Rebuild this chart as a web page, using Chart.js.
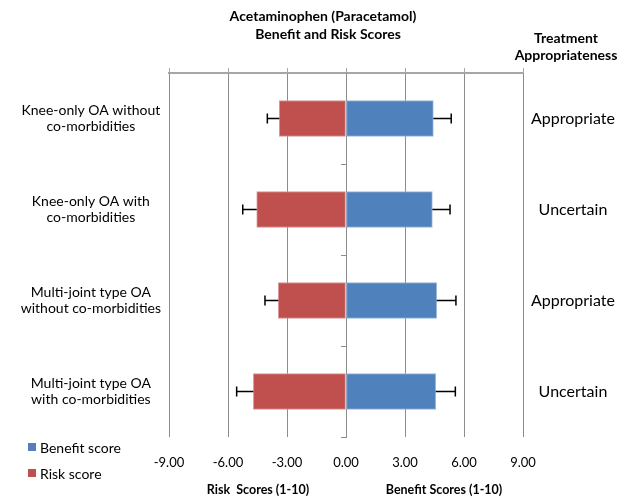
<!DOCTYPE html>
<html>
<head>
<meta charset="utf-8">
<script src="https://cdn.jsdelivr.net/npm/chart.js"></script>
<style>
  body { margin: 0; background: #fff; }
</style>
</head>
<body>
<canvas id="oaChart" width="632" height="498"></canvas>
<script>
var categories = [
  ['Knee-only OA without', 'co-morbidities'],
  ['Knee-only OA with', 'co-morbidities'],
  ['Multi-joint type OA', 'without co-morbidities'],
  ['Multi-joint type OA', 'with co-morbidities']
];
var appropriateness = ['Appropriate', 'Uncertain', 'Appropriate', 'Uncertain'];
var benefitScores = [4.44, 4.39, 4.61, 4.56];
var riskScores = [-3.39, -4.54, -3.44, -4.71];
var benefitErrors = [0.91, 0.90, 0.98, 1.00];
var riskErrors = [0.61, 0.71, 0.68, 0.85];
var xTicks = [-9, -6, -3, 0, 3, 6, 9];

var FONT = 'Lato, "Liberation Sans", sans-serif';
var gridColor = '#8c8c8c';

// error bars, drawn from each bar end through the x scale
var errorBars = {
  id: 'errorBars',
  afterDatasetsDraw: function(chart) {
    var ctx = chart.ctx;
    var xs = chart.scales.x;
    chart.data.datasets.forEach(function(ds, i) {
      var meta = chart.getDatasetMeta(i);
      meta.data.forEach(function(bar, j) {
        var v = ds.data[j];
        var end = v + (v < 0 ? -ds.errors[j] : ds.errors[j]);
        var x1 = xs.getPixelForValue(v);
        var x2 = xs.getPixelForValue(end);
        ctx.save();
        ctx.strokeStyle = '#000';
        ctx.lineWidth = 1.5;
        ctx.beginPath();
        ctx.moveTo(x1, bar.y);
        ctx.lineTo(x2, bar.y);
        ctx.moveTo(x2, bar.y - 5);
        ctx.lineTo(x2, bar.y + 5);
        ctx.stroke();
        ctx.restore();
      });
    });
  }
};

// titles, axis titles and legend
var texts = {
  id: 'texts',
  afterDraw: function(chart) {
    var ctx = chart.ctx;
    ctx.save();
    ctx.fillStyle = '#000';
    ctx.textAlign = 'center';
    ctx.textBaseline = 'middle';
    ctx.font = 'bold 14px ' + FONT;
    ctx.fillText('Acetaminophen (Paracetamol)', 323, 16);
    ctx.fillText('Benefit and Risk Scores', 328, 34);
    ctx.fillText('Treatment', 566, 38);
    ctx.fillText('Appropriateness', 566, 55);
    ctx.font = 'bold 12.5px ' + FONT;
    ctx.fillText('Risk  Scores (1-10)', 258, 490);
    ctx.fillText('Benefit Scores (1-10)', 444, 490);

    ctx.textAlign = 'left';
    ctx.font = '14px ' + FONT;
    var items = [chart.data.datasets[0], chart.data.datasets[1]];
    items.forEach(function(ds, k) {
      var y = 447 + k * 26;
      ctx.fillStyle = ds.backgroundColor;
      ctx.fillRect(28, y - 4, 8, 8);
      ctx.fillStyle = '#000';
      ctx.fillText(ds.label, 40, y + 1);
    });
    ctx.restore();
  }
};

var ctx = document.getElementById('oaChart').getContext('2d');
var chart = new Chart(ctx, {
  type: 'bar',
  data: {
    labels: categories,
    datasets: [{
      label: 'Benefit score',
      data: benefitScores,
      errors: benefitErrors,
      backgroundColor: '#4f81bd',
      borderColor: '#9bb7dc',
      borderWidth: 1,
      borderSkipped: false,
      barThickness: 36
    }, {
      label: 'Risk score',
      data: riskScores,
      errors: riskErrors,
      backgroundColor: '#c0504d',
      borderColor: '#d99694',
      borderWidth: 1,
      borderSkipped: false,
      barThickness: 36
    }]
  },
  options: {
    indexAxis: 'y',
    responsive: false,
    animation: false,
    layout: { padding: 0 },
    plugins: {
      legend: { display: false },
      tooltip: { enabled: false }
    },
    scales: {
      x: {
        type: 'linear',
        position: 'bottom',
        stacked: true,
        min: -9,
        max: 9,
        afterBuildTicks: function(axis) {
          axis.ticks = xTicks.map(function(v) { return { value: v }; });
        },
        ticks: {
          color: '#000',
          font: { family: FONT, size: 13 },
          padding: 18,
          callback: function(v) { return Number(v).toFixed(2); }
        },
        grid: { color: gridColor, drawTicks: false },
        border: { display: false },
        afterFit: function(axis) { axis.height = 61; }
      },
      xTop: {
        type: 'linear',
        position: 'top',
        min: -9,
        max: 9,
        afterBuildTicks: function(axis) {
          axis.ticks = xTicks.map(function(v) { return { value: v }; });
        },
        ticks: { display: false },
        grid: { drawOnChartArea: false, color: '#a6a6a6', tickLength: 5 },
        border: { color: '#a6a6a6', width: 2 },
        afterFit: function(axis) { axis.height = 73; }
      },
      y: {
        type: 'category',
        position: 'left',
        stacked: true,
        offset: true,
        ticks: {
          color: '#000',
          font: { family: FONT, size: 14, lineHeight: 1.2 },
          crossAlign: 'center',
          padding: 0
        },
        grid: { display: false },
        border: { display: false },
        afterFit: function(axis) { axis.width = 169; }
      },
      yMid: {
        type: 'category',
        position: { x: 0 },
        offset: true,
        ticks: { display: false },
        grid: { offset: true, drawOnChartArea: false, color: gridColor, tickLength: 5 },
        border: { color: gridColor, width: 1 },
        afterFit: function(axis) { axis.width = 0; }
      },
      yRight: {
        type: 'category',
        position: 'right',
        labels: appropriateness,
        offset: true,
        ticks: {
          color: '#000',
          font: { family: FONT, size: 16 },
          crossAlign: 'center',
          padding: 0
        },
        grid: { display: false },
        border: { display: false },
        afterFit: function(axis) { axis.width = 109; }
      }
    }
  },
  plugins: [errorBars, texts]
});
</script>
</body>
</html>
